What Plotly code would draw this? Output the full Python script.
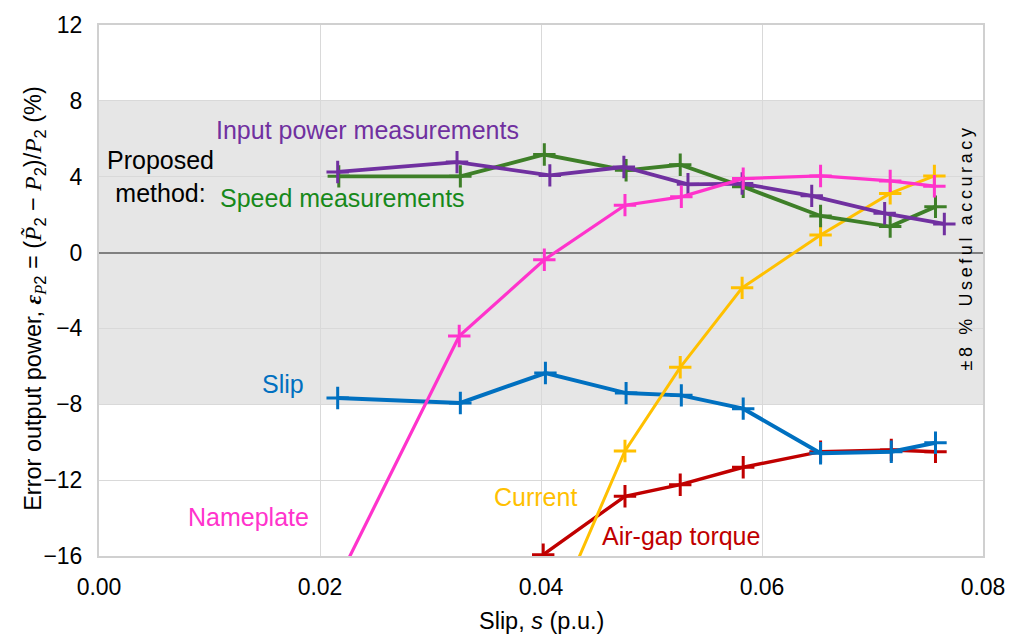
import plotly.graph_objects as go

# Slip (p.u.) and output-power error (%) for each estimation method
slip_input_power = [0.0216, 0.0324, 0.0408, 0.0475, 0.0533, 0.0582, 0.0645, 0.0711, 0.0765]
err_input_power = [4.25, 4.77, 4.07, 4.51, 3.60, 3.64, 2.99, 2.07, 1.51]

slip_speed = [0.0217, 0.0327, 0.0403, 0.0477, 0.0526, 0.0583, 0.0653, 0.0716, 0.0757]
err_speed = [4.02, 4.02, 5.17, 4.34, 4.63, 3.47, 1.93, 1.37, 2.42]

slip_nameplate = [0.0216, 0.0326, 0.0403, 0.0476, 0.0527, 0.0583, 0.0653, 0.0716, 0.0756]
err_nameplate = [-17.3, -4.40, -0.38, 2.50, 2.94, 3.90, 4.04, 3.78, 3.50]

slip_current = [0.0403, 0.0476, 0.0526, 0.0582, 0.0653, 0.0716, 0.0756]
err_current = [-20.3, -10.46, -6.05, -1.86, 0.93, 3.12, 4.04]

slip_slip = [0.0216, 0.0327, 0.0404, 0.0477, 0.0527, 0.0583, 0.0653, 0.0717, 0.0757]
err_slip = [-7.67, -7.93, -6.35, -7.41, -7.53, -8.23, -10.58, -10.50, -10.03]

slip_torque = [0.0402, 0.0476, 0.0526, 0.0583, 0.0653, 0.0717, 0.0757]
err_torque = [-15.93, -12.85, -12.24, -11.32, -10.50, -10.41, -10.50]

x_ticks = [0.0, 0.02, 0.04, 0.06, 0.08]
y_ticks = [-16, -12, -8, -4, 0, 4, 8, 12]
band_limit = 8

FONT = "Liberation Sans, Arial, sans-serif"
MATH = "Liberation Serif, DejaVu Serif, serif"

series = [
    (slip_torque, err_torque, "#c00000", 3.4, "Air-gap torque"),
    (slip_slip, err_slip, "#0070c0", 4.0, "Slip"),
    (slip_current, err_current, "#ffc000", 3.0, "Current"),
    (slip_speed, err_speed, "#3e7f28", 3.8, "Speed measurements"),
    (slip_input_power, err_input_power, "#7030a0", 3.8, "Input power measurements"),
    (slip_nameplate, err_nameplate, "#ff33cc", 3.2, "Nameplate"),
]

fig = go.Figure()
for xs, ys, color, width, name in series:
    fig.add_trace(go.Scatter(
        x=xs, y=ys, name=name, mode="lines+markers",
        line=dict(color=color, width=width),
        marker=dict(symbol="cross-thin", size=16,
                    line=dict(color=color, width=3)),
        showlegend=False,
    ))

# ±8 % useful-accuracy band
fig.add_shape(type="rect", xref="paper", x0=0, x1=1, yref="y",
              y0=-band_limit, y1=band_limit, fillcolor="#e6e6e6",
              line=dict(width=0), layer="below")

labels = [
    ("Input power measurements", 0.02429, 6.45, "#7030a0"),
    ("Proposed<br>method:", 0.00552, 4.0, "#000000"),
    ("Speed measurements", 0.0220, 2.90, "#17891a"),
    ("Slip", 0.01661, -6.93, "#0070c0"),
    ("Nameplate", 0.01356, -13.93, "#ff33cc"),
    ("Current", 0.03952, -12.89, "#ffc000"),
    ("Air-gap torque", 0.05264, -14.92, "#c00000"),
]
for text, x, y, color in labels:
    fig.add_annotation(x=x, y=y, text=text, showarrow=False,
                       xanchor="center", yanchor="middle",
                       font=dict(family=FONT, size=25, color=color))

band_text = "\u2009".join("±8 % Useful accuracy")
fig.add_annotation(xref="paper", x=0.9805, yref="y", y=0.15, text=band_text,
                   textangle=-90, showarrow=False, xanchor="center",
                   yanchor="middle",
                   font=dict(family=FONT, size=18, color="#000000"))

m = lambda s: f'<span style="font-family:{MATH}"><i>{s}</i></span>'
y_title = ("Error output power, "
           f'<span style="font-family:{MATH}"><b><i>ε</i></b></span>'
           f"<sub>{m('P')}2</sub> = ({m('P̃')}<sub>2</sub> − {m('P')}<sub>2</sub>)"
           f"/{m('P')}<sub>2</sub> (%)")
fig.add_annotation(xref="paper", x=-0.072, yref="paper", y=0.485,
                   text=y_title, textangle=-90, showarrow=False,
                   xanchor="center", yanchor="middle",
                   font=dict(family=FONT, size=23.5, color="#000000"))
fig.add_annotation(xref="paper", x=0.5, yref="paper", y=-0.123,
                   text="Slip, <i>s</i> (p.u.)", showarrow=False,
                   xanchor="center", yanchor="middle",
                   font=dict(family=FONT, size=23.5, color="#000000"))

fig.update_xaxes(range=[0, 0.08], tickvals=x_ticks, tickformat=".2f",
                 showgrid=True, gridcolor="#d9d9d9", gridwidth=1,
                 showline=True, linecolor="#d0d0d0", linewidth=2, mirror=True,
                 zeroline=False, ticks="", ticklabelstandoff=9,
                 tickfont=dict(family=FONT, size=23, color="#000000"))
fig.update_yaxes(range=[-16, 12], tickvals=y_ticks,
                 showgrid=True, gridcolor="#d9d9d9", gridwidth=1,
                 showline=True, linecolor="#d0d0d0", linewidth=2, mirror=True,
                 zeroline=True, zerolinecolor="#808080", zerolinewidth=2,
                 ticks="", ticklabelstandoff=10,
                 tickfont=dict(family=FONT, size=23, color="#000000"))

fig.update_layout(width=1017, height=635,
                  margin=dict(l=99, r=25, t=18, b=79),
                  paper_bgcolor="#ffffff", plot_bgcolor="#ffffff",
                  font=dict(family=FONT))

fig.write_html("out.html")
